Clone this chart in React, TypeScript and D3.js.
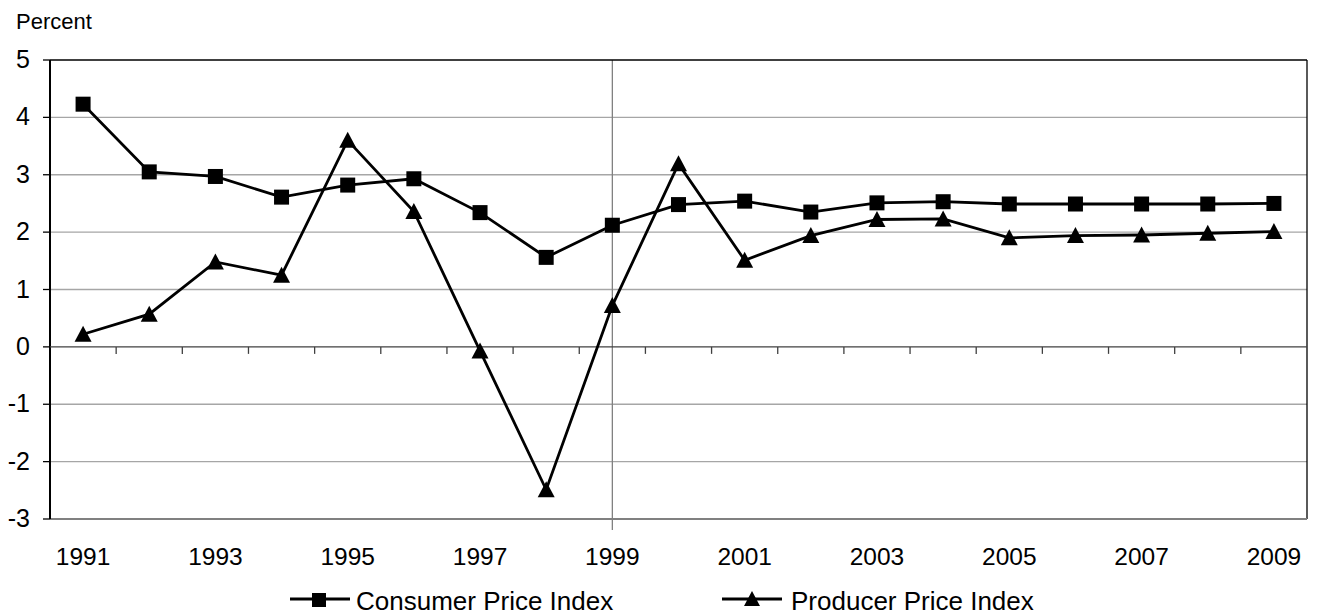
import React from "react";
import * as d3 from "d3";

const years = [1991,1992,1993,1994,1995,1996,1997,1998,1999,2000,2001,2002,2003,2004,2005,2006,2007,2008,2009];
const cpi = [4.23,3.05,2.97,2.61,2.82,2.93,2.34,1.56,2.12,2.48,2.54,2.35,2.51,2.53,2.49,2.49,2.49,2.49,2.50];
const ppi = [0.22,0.57,1.48,1.25,3.60,2.36,-0.07,-2.49,0.72,3.19,1.51,1.94,2.22,2.23,1.90,1.94,1.95,1.98,2.01];
const yTicks = [5,4,3,2,1,0,-1,-2,-3];
const xLabelYears = [1991,1993,1995,1997,1999,2001,2003,2005,2007,2009];
const seriesNames = ["Consumer Price Index", "Producer Price Index"];

const W = 1317, H = 616;
const L = 50, R = 1307, T = 60, B = 519;
const FONT = "'Liberation Sans', Arial, sans-serif";

function Square({ x, y, s = 15 }: { x: number; y: number; s?: number }) {
  return <rect x={x - s / 2} y={y - s / 2} width={s} height={s} fill="#000" />;
}
function Tri({ x, y, w = 17, h = 15 }: { x: number; y: number; w?: number; h?: number }) {
  return <path d={`M${x},${y - h / 2 - 1}L${x + w / 2},${y + h / 2}L${x - w / 2},${y + h / 2}Z`} fill="#000" />;
}

export default function App() {
  const x = d3.scalePoint<number>().domain(years).range([L, R]).padding(0.5);
  const step = x.step();
  const y = d3.scaleLinear().domain([-3, 5]).range([B, T]);
  const line = d3.line<number>().x((_, i) => x(years[i])!).y((d) => y(d));
  const y0 = y(0);
  const boundaries = d3.range(1, years.length).map((i) => L + i * step);
  const x1999 = x(1999)!;

  return (
    <svg width={W} height={H} style={{ position: "absolute", left: 0, top: 0, background: "#fff" }} fontFamily={FONT}>
      <rect x={0} y={0} width={W} height={H} fill="#fff" />
      <text x={16} y={28.5} fontSize={22} fill="#000">Percent</text>
      {/* gridlines */}
      {yTicks.filter((t) => t !== 5 && t !== 0 && t !== -3).map((t) => (
        <line key={t} x1={L} x2={R} y1={y(t)} y2={y(t)} stroke="#a6a6a6" strokeWidth={1.3} />
      ))}
      {/* 1999 vertical */}
      <line x1={x1999} x2={x1999} y1={T} y2={B + 11} stroke="#808080" strokeWidth={1.3} />
      {/* borders */}
      <line x1={L} x2={R} y1={T} y2={T} stroke="#000" strokeWidth={1.3} />
      <line x1={R} x2={R} y1={T} y2={B} stroke="#000" strokeWidth={1.3} />
      <line x1={L} x2={R} y1={B} y2={B} stroke="#808080" strokeWidth={2} />
      <line x1={L} x2={L} y1={T} y2={B} stroke="#000" strokeWidth={2} />
      {/* zero axis */}
      <line x1={L} x2={R} y1={y0} y2={y0} stroke="#404040" strokeWidth={1.3} />
      {boundaries.map((bx, i) => (
        <line key={i} x1={bx} x2={bx} y1={y0} y2={y0 + 7} stroke="#404040" strokeWidth={1.3} />
      ))}
      {/* y ticks & labels */}
      {yTicks.map((t) => (
        <g key={t}>
          <line x1={L - 7} x2={L} y1={y(t)} y2={y(t)} stroke="#000" strokeWidth={1.3} />
          <text x={30} y={y(t) + 8} fontSize={25} textAnchor="end" fill="#000">{t}</text>
        </g>
      ))}
      {/* x labels */}
      {xLabelYears.map((yr) => (
        <text key={yr} x={x(yr)!} y={565} fontSize={24.5} textAnchor="middle" fill="#000">{yr}</text>
      ))}
      {/* series */}
      <path d={line(cpi)!} fill="none" stroke="#000" strokeWidth={2.8} />
      <path d={line(ppi)!} fill="none" stroke="#000" strokeWidth={2.8} />
      {cpi.map((v, i) => <Square key={"c" + i} x={x(years[i])!} y={y(v)} />)}
      {ppi.map((v, i) => <Tri key={"p" + i} x={x(years[i])!} y={y(v)} />)}
      {/* legend */}
      <g>
        <line x1={290} x2={350} y1={599} y2={599} stroke="#000" strokeWidth={2.8} />
        <Square x={319} y={600} s={14} />
        <text x={356} y={610} fontSize={26} fill="#000">{seriesNames[0]}</text>
        <line x1={722} x2={782} y1={599} y2={599} stroke="#000" strokeWidth={2.8} />
        <Tri x={752} y={599} w={16} h={14} />
        <text x={791} y={610} fontSize={26} fill="#000">{seriesNames[1]}</text>
      </g>
    </svg>
  );
}
